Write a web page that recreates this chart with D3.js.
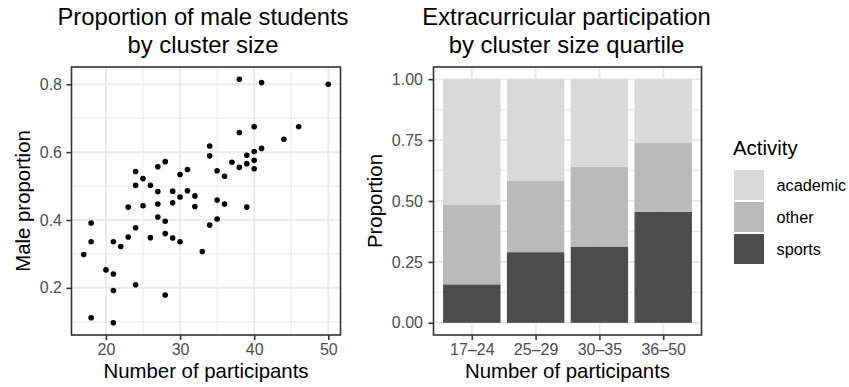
<!DOCTYPE html>
<html>
<head>
<meta charset="utf-8">
<script src="https://cdn.jsdelivr.net/npm/d3@7"></script>
<style>
  body { margin: 0; background: #fff; }
  svg text { font-family: "Liberation Sans", Arial, Helvetica, sans-serif; }
</style>
</head>
<body>
<svg id="chart" width="849" height="387"></svg>
<script>
// scatter data: cluster size vs male proportion
const sizes = [17, 18, 18, 18, 20, 21, 21, 21, 21, 22, 23, 23, 24, 24, 24, 24, 25, 25, 26, 26,
  27, 27, 27, 27, 28, 28, 28, 28, 29, 29, 29, 30, 30, 30, 31, 31, 32, 32, 33, 34,
  34, 34, 35, 35, 35, 36, 36, 37, 38, 38, 38, 39, 39, 39, 40, 40, 40, 40, 41, 41,
  44, 46, 50];
const maleProp = [0.298, 0.391, 0.336, 0.112, 0.253, 0.336, 0.241, 0.192, 0.097, 0.322,
  0.438, 0.350, 0.543, 0.502, 0.377, 0.209, 0.522, 0.442, 0.502, 0.348,
  0.557, 0.484, 0.447, 0.409, 0.572, 0.396, 0.360, 0.179, 0.485, 0.451,
  0.347, 0.534, 0.468, 0.336, 0.549, 0.486, 0.471, 0.440, 0.307, 0.618,
  0.589, 0.385, 0.545, 0.459, 0.403, 0.529, 0.447, 0.570, 0.815, 0.658,
  0.555, 0.591, 0.566, 0.438, 0.675, 0.602, 0.576, 0.551, 0.805, 0.611,
  0.638, 0.675, 0.800];

// bar data: activity shares per size quartile
const quartiles = ["17–24", "25–29", "30–35", "36–50"];
const activities = ["academic", "other", "sports"];
const sports = [0.158, 0.290, 0.313, 0.456];
const other = [0.327, 0.293, 0.327, 0.282];
const academic = [0.515, 0.417, 0.360, 0.262];
const fills = { academic: "#D9D9D9", other: "#BABABA", sports: "#4D4D4D" };

const svg = d3.select("#chart");
const grid = "#EBEBEB", border = "#333333", tickText = "#4D4D4D";

function panel(x0, x1, y0, y1) {
  return { x0, x1, y0, y1 };
}

// ---------- scatter ----------
const p1 = panel(71.5, 340.5, 67, 335);
const xr = d3.extent(sizes), yr = d3.extent(maleProp);
const xpad = (xr[1] - xr[0]) * 0.05, ypad = (yr[1] - yr[0]) * 0.05;
const x1 = d3.scaleLinear().domain([xr[0] - xpad, xr[1] + xpad]).range([p1.x0, p1.x1]);
const y1 = d3.scaleLinear().domain([yr[0] - ypad, yr[1] + ypad]).range([p1.y1, p1.y0]);

const g1 = svg.append("g");
g1.append("rect").attr("x", p1.x0).attr("y", p1.y0)
  .attr("width", p1.x1 - p1.x0).attr("height", p1.y1 - p1.y0).attr("fill", "#fff");

// minor grid
g1.selectAll(".xmin").data([25, 35, 45]).join("line")
  .attr("x1", d => x1(d)).attr("x2", d => x1(d)).attr("y1", p1.y0).attr("y2", p1.y1)
  .attr("stroke", grid).attr("stroke-width", 1);
g1.selectAll(".ymin").data([0.1, 0.3, 0.5, 0.7]).join("line")
  .attr("y1", d => y1(d)).attr("y2", d => y1(d)).attr("x1", p1.x0).attr("x2", p1.x1)
  .attr("stroke", grid).attr("stroke-width", 1);
// major grid
g1.selectAll(".xmaj").data([20, 30, 40, 50]).join("line")
  .attr("x1", d => x1(d)).attr("x2", d => x1(d)).attr("y1", p1.y0).attr("y2", p1.y1)
  .attr("stroke", grid).attr("stroke-width", 2);
g1.selectAll(".ymaj").data([0.2, 0.4, 0.6, 0.8]).join("line")
  .attr("y1", d => y1(d)).attr("y2", d => y1(d)).attr("x1", p1.x0).attr("x2", p1.x1)
  .attr("stroke", grid).attr("stroke-width", 2);

g1.selectAll("circle").data(sizes.map((s, i) => [s, maleProp[i]])).join("circle")
  .attr("cx", d => x1(d[0])).attr("cy", d => y1(d[1])).attr("r", 2.8).attr("fill", "#000");

g1.append("rect").attr("x", p1.x0).attr("y", p1.y0)
  .attr("width", p1.x1 - p1.x0).attr("height", p1.y1 - p1.y0)
  .attr("fill", "none").attr("stroke", border).attr("stroke-width", 1.6);

function styleAxis(sel) {
  sel.select(".domain").remove();
  sel.selectAll(".tick line").attr("stroke", border).attr("stroke-width", 1.6);
  sel.selectAll(".tick text").attr("fill", tickText).style("font-size", "16px")
    .style("font-family", "Liberation Sans, Arial, sans-serif");
}

g1.append("g").attr("transform", `translate(0,${p1.y1})`)
  .call(d3.axisBottom(x1).tickValues([20, 30, 40, 50]).tickSize(5).tickPadding(4))
  .call(styleAxis);
g1.append("g").attr("transform", `translate(${p1.x0},0)`)
  .call(d3.axisLeft(y1).tickValues([0.2, 0.4, 0.6, 0.8]).tickFormat(d3.format(".1f")).tickSize(5).tickPadding(4.5))
  .call(styleAxis);

g1.append("text").attr("x", (p1.x0 + p1.x1) / 2).attr("y", 377.5)
  .attr("text-anchor", "middle").style("font-size", "20.4px").text("Number of participants");
g1.append("text").attr("transform", `translate(30,${(p1.y0 + p1.y1) / 2}) rotate(-90)`)
  .attr("text-anchor", "middle").style("font-size", "20.4px").text("Male proportion");
g1.append("text").attr("x", (p1.x0 + p1.x1) / 2 - 3).attr("y", 25)
  .attr("text-anchor", "middle").style("font-size", "23.8px").text("Proportion of male students");
g1.append("text").attr("x", (p1.x0 + p1.x1) / 2 - 3).attr("y", 52.7)
  .attr("text-anchor", "middle").style("font-size", "23.8px").text("by cluster size");

// ---------- stacked bars ----------
const p2 = panel(433.5, 701.5, 67, 335);
const x2 = d3.scalePoint().domain(quartiles).range([p2.x0, p2.x1]).padding(0.6);
const y2 = d3.scaleLinear().domain([-0.05, 1.05]).range([p2.y1, p2.y0]);
const barW = x2.step() * 0.9;

const rows = quartiles.map((q, i) => ({ q, sports: sports[i], other: other[i], academic: academic[i] }));
const stacked = d3.stack().keys(["sports", "other", "academic"])(rows);

const g2 = svg.append("g");
g2.selectAll(".ymin").data([0.125, 0.375, 0.625, 0.875]).join("line")
  .attr("y1", d => y2(d)).attr("y2", d => y2(d)).attr("x1", p2.x0).attr("x2", p2.x1)
  .attr("stroke", grid).attr("stroke-width", 1);
g2.selectAll(".ymaj").data([0, 0.25, 0.5, 0.75, 1]).join("line")
  .attr("y1", d => y2(d)).attr("y2", d => y2(d)).attr("x1", p2.x0).attr("x2", p2.x1)
  .attr("stroke", grid).attr("stroke-width", 2);
g2.selectAll(".xmaj").data(quartiles).join("line")
  .attr("x1", d => x2(d)).attr("x2", d => x2(d)).attr("y1", p2.y0).attr("y2", p2.y1)
  .attr("stroke", grid).attr("stroke-width", 2);

g2.selectAll(".layer").data(stacked).join("g")
  .attr("fill", d => fills[d.key])
  .selectAll("rect").data(d => d).join("rect")
  .attr("x", d => x2(d.data.q) - barW / 2).attr("width", barW)
  .attr("y", d => y2(d[1])).attr("height", d => y2(d[0]) - y2(d[1]));

g2.append("rect").attr("x", p2.x0).attr("y", p2.y0)
  .attr("width", p2.x1 - p2.x0).attr("height", p2.y1 - p2.y0)
  .attr("fill", "none").attr("stroke", border).attr("stroke-width", 1.6);

g2.append("g").attr("transform", `translate(0,${p2.y1})`)
  .call(d3.axisBottom(x2).tickSize(5).tickPadding(4))
  .call(styleAxis);
g2.append("g").attr("transform", `translate(${p2.x0},0)`)
  .call(d3.axisLeft(y2).tickValues([0, 0.25, 0.5, 0.75, 1]).tickFormat(d3.format(".2f")).tickSize(5).tickPadding(5.5))
  .call(styleAxis);

g2.append("text").attr("x", (p2.x0 + p2.x1) / 2).attr("y", 377.5)
  .attr("text-anchor", "middle").style("font-size", "20.4px").text("Number of participants");
g2.append("text").attr("transform", `translate(382,${(p2.y0 + p2.y1) / 2}) rotate(-90)`)
  .attr("text-anchor", "middle").style("font-size", "20.4px").text("Proportion");
g2.append("text").attr("x", (p2.x0 + p2.x1) / 2 - 1).attr("y", 25)
  .attr("text-anchor", "middle").style("font-size", "23.8px").text("Extracurricular participation");
g2.append("text").attr("x", (p2.x0 + p2.x1) / 2 - 1).attr("y", 52.7)
  .attr("text-anchor", "middle").style("font-size", "23.8px").text("by cluster size quartile");

// legend
const lg = svg.append("g").attr("transform", "translate(733,0)");
lg.append("text").attr("x", 0).attr("y", 155).style("font-size", "20.4px").text("Activity");
const items = lg.selectAll(".item").data(activities).join("g")
  .attr("transform", (d, i) => `translate(1,${170 + i * 32})`);
items.append("rect").attr("width", 30).attr("height", 30).attr("fill", d => fills[d]);
items.append("text").attr("x", 42.5).attr("y", 15).attr("dy", "0.35em")
  .style("font-size", "16.3px").text(d => d);
</script>
</body>
</html>
